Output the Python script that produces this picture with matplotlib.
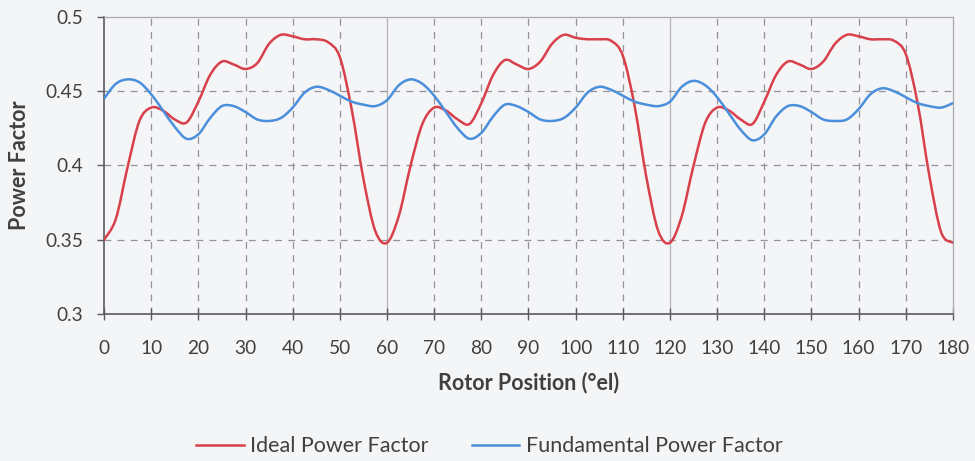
import matplotlib

matplotlib.use("Agg")
import matplotlib.pyplot as plt
import numpy as np
from matplotlib.lines import Line2D
from matplotlib.patches import PathPatch
from matplotlib.path import Path


OUTPUT_PATH = "out.png"
BACKGROUND = "#f4f5f7"
IDEAL_COLOR = "#d8404a"
FUNDAMENTAL_COLOR = "#4a8fdb"
TEXT_COLOR = "#404040"

# rotor position in electrical degrees, sampled every 2.5 degrees
rotor_position = np.arange(0, 180.1, 2.5)

ideal_power_factor = [
    0.350, 0.364, 0.399, 0.430, 0.439, 0.437, 0.431, 0.429, 0.443, 0.461, 0.470, 0.468,
    0.465, 0.469, 0.482, 0.488, 0.487, 0.485, 0.485, 0.483, 0.473, 0.438, 0.391, 0.356,
    0.348, 0.366, 0.400, 0.428, 0.439, 0.437, 0.431, 0.428, 0.442, 0.461, 0.471, 0.468,
    0.465, 0.470, 0.482, 0.488, 0.486, 0.485, 0.485, 0.484, 0.474, 0.440, 0.392, 0.356,
    0.348, 0.366, 0.400, 0.429, 0.439, 0.437, 0.431, 0.428, 0.443, 0.461, 0.470, 0.468,
    0.465, 0.470, 0.482, 0.488, 0.487, 0.485, 0.485, 0.484, 0.475, 0.442, 0.393, 0.355,
    0.348,
]

fundamental_power_factor = [
    0.445, 0.455, 0.458, 0.456, 0.448, 0.437, 0.426, 0.418, 0.421, 0.432, 0.440, 0.440,
    0.436, 0.431, 0.430, 0.432, 0.439, 0.449, 0.453, 0.451, 0.447, 0.443, 0.441, 0.440,
    0.444, 0.454, 0.458, 0.455, 0.447, 0.436, 0.425, 0.418, 0.422, 0.433, 0.441, 0.440,
    0.436, 0.431, 0.430, 0.432, 0.439, 0.449, 0.453, 0.451, 0.447, 0.443, 0.441, 0.440,
    0.443, 0.453, 0.457, 0.454, 0.446, 0.435, 0.424, 0.417, 0.421, 0.433, 0.440, 0.440,
    0.436, 0.431, 0.430, 0.431, 0.438, 0.448, 0.452, 0.450, 0.446, 0.442, 0.440, 0.439,
    0.442,
]

x_ticks = list(range(0, 181, 10))
y_ticks = [0.3, 0.35, 0.4, 0.45, 0.5]
y_tick_labels = ["0.3", "0.35", "0.4", "0.45", "0.5"]


def smooth_path(x, y):
    """Bezier path through every sample (spreadsheet-style smoothed line)."""
    points = np.column_stack([x, y]).astype(float)
    padded = np.vstack([points[0], points, points[-1]])
    vertices = [points[0]]
    codes = [Path.MOVETO]
    for i in range(len(points) - 1):
        p0, p1, p2, p3 = padded[i], padded[i + 1], padded[i + 2], padded[i + 3]
        vertices += [p1 + (p2 - p0) / 6, p2 - (p3 - p1) / 6, p2]
        codes += [Path.CURVE4] * 3
    return Path(vertices, codes)


def plot_power_factor():
    plt.rcParams["font.family"] = ["Lato", "DejaVu Sans"]

    figure = plt.figure(figsize=(9.75, 4.61), dpi=100, facecolor=BACKGROUND)
    axis = figure.add_axes([0.1067, 0.3189, 0.8707, 0.6442])
    axis.set_facecolor(BACKGROUND)

    # dashed grid, with solid lines every 60 degrees
    dash = (0, (5.5, 5))
    for x in x_ticks[1:-1]:
        if x % 60 == 0:
            axis.axvline(x, color="#b4b4b8", linewidth=0.9, zorder=1)
        else:
            axis.axvline(x, color="#929298", linewidth=0.9, linestyle=dash, zorder=1)
    for y in y_ticks[1:-1]:
        axis.axhline(y, color="#929298", linewidth=0.9, linestyle=dash, zorder=1)

    series = [
        ("Ideal Power Factor", ideal_power_factor, IDEAL_COLOR),
        ("Fundamental Power Factor", fundamental_power_factor, FUNDAMENTAL_COLOR),
    ]
    handles = []
    for label, values, color in series:
        patch = PathPatch(smooth_path(rotor_position, values), facecolor="none",
                          edgecolor=color, linewidth=1.8, capstyle="round",
                          joinstyle="round", zorder=3)
        axis.add_patch(patch)
        handles.append(Line2D([], [], color=color, linewidth=1.8, label=label))

    axis.set_xlim(0, 180)
    axis.set_ylim(0.3, 0.5)
    axis.set_xticks(x_ticks)
    axis.set_yticks(y_ticks)
    axis.set_yticklabels(y_tick_labels)

    for side in ("left", "bottom"):
        axis.spines[side].set_color("#5a5a60")
        axis.spines[side].set_linewidth(1.2)
    for side in ("top", "right"):
        axis.spines[side].set_color("#a8a8ae")
        axis.spines[side].set_linewidth(0.9)

    axis.tick_params(axis="x", direction="inout", length=8, width=1.0,
                     color="#5a5a60", pad=14.5, labelsize=13.8, labelcolor=TEXT_COLOR)
    axis.tick_params(axis="y", direction="out", length=5, width=1.0,
                     color="#5a5a60", pad=10, labelsize=13.8, labelcolor=TEXT_COLOR)

    axis.set_xlabel("Rotor Position (°el)", fontsize=15.5, fontweight="bold",
                    color=TEXT_COLOR, labelpad=11)
    axis.set_ylabel("Power Factor", fontsize=15.5, fontweight="bold",
                    color=TEXT_COLOR, labelpad=11)

    figure.legend(handles=handles, loc="center", bbox_to_anchor=(0.502, 0.032),
                  ncol=2, frameon=False, fontsize=15.5, handlelength=2.2,
                  handletextpad=0.3, columnspacing=2.0, labelcolor=TEXT_COLOR)

    figure.savefig(OUTPUT_PATH, dpi=100, facecolor=BACKGROUND)
    plt.close(figure)


if __name__ == "__main__":
    plot_power_factor()
